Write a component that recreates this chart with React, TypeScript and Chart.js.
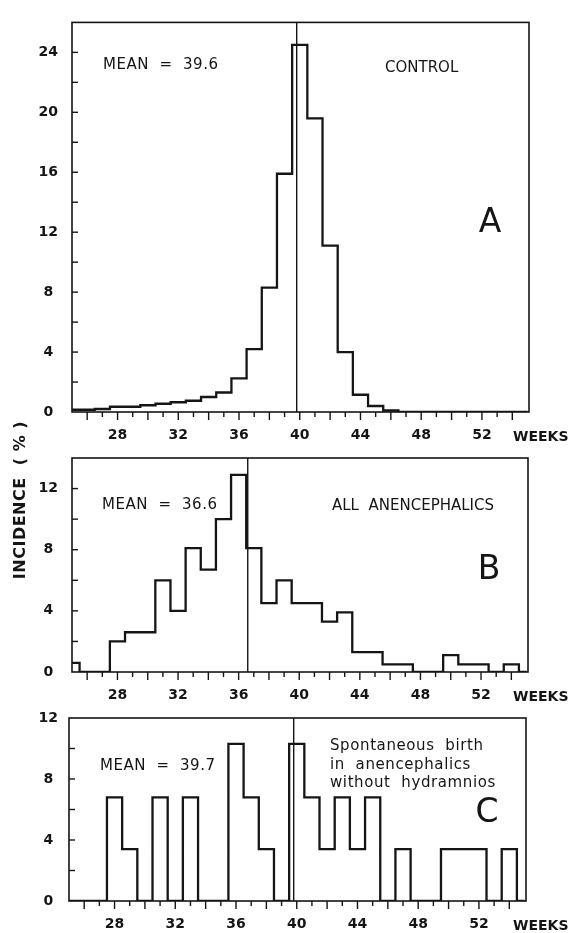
import React, { useEffect, useRef } from "react";
import { Chart, registerables } from "chart.js";

Chart.register(...registerables);

// ---------- DATA ----------
const weeks = [25, 26, 27, 28, 29, 30, 31, 32, 33, 34, 35, 36, 37, 38, 39, 40, 41, 42, 43, 44, 45, 46, 47, 48, 49, 50, 51, 52, 53, 54, 55];

// Panel A: control
const controlPct = [0.15, 0.15, 0.2, 0.35, 0.35, 0.45, 0.55, 0.65, 0.75, 1.0, 1.3, 2.25, 4.2, 8.3, 15.9, 24.5, 19.6, 11.1, 4.0, 1.15, 0.4, 0.1, 0, 0, 0, 0, 0, 0, 0, 0, 0];
// Panel B: all anencephalics
const allAnencephalicsPct = [0.6, 0, 0, 2.0, 2.6, 2.6, 6.0, 4.0, 8.1, 6.7, 10.0, 12.9, 8.1, 4.5, 6.0, 4.5, 4.5, 3.3, 3.9, 1.3, 1.3, 0.5, 0.5, 0, 0, 1.1, 0.5, 0.5, 0, 0.5, 0];
// Panel C: spontaneous birth in anencephalics without hydramnios
const spontaneousPct = [0, 0, 0, 6.8, 3.4, 0, 6.8, 0, 6.8, 0, 0, 10.3, 6.8, 3.4, 0, 10.3, 6.8, 3.4, 6.8, 3.4, 6.8, 0, 3.4, 0, 0, 3.4, 3.4, 3.4, 0, 3.4, 0];

const meanLineA = 39.8;
const meanLineB = 36.6;
const meanLineC = 39.8;

const xTickLabels = [28, 32, 36, 40, 44, 48, 52];
const xTickMarks = [26, 27, 28, 29, 30, 31, 32, 33, 34, 35, 36, 37, 38, 39, 40, 41, 42, 43, 44, 45, 46, 47, 48, 49, 50, 51, 52, 53, 54];
const yTickLabelsA = [0, 4, 8, 12, 16, 20, 24];
const yTickMarksA = [2, 4, 6, 8, 10, 12, 14, 16, 18, 20, 22, 24];
const yTickLabelsBC = [0, 4, 8, 12];
const yTickMarksB = [2, 4, 6, 8, 10, 12];
const yTickMarksC = [2, 4, 6, 8, 10];

const X_MIN = 25;
const X_MAX = 55.1;
const W = 570;
const H = 933;
const INK = "#151515";
const FONT = "'DejaVu Sans', 'Noto Sans', sans-serif";

type TextItem = { text: string; x: number; y: number; size: number; weight?: string; align?: CanvasTextAlign; spacing?: string };

type Panel = {
  values: number[];
  yMax: number;
  yLabels: number[];
  yMarks: number[];
  area: { left: number; top: number; right: number; bottom: number };
  yPad: number;
  mean: number;
  texts: TextItem[];
  vertical?: boolean;
};

const panels: Panel[] = [
  {
    values: controlPct,
    yMax: 26,
    yLabels: yTickLabelsA,
    yMarks: yTickMarksA,
    area: { left: 72, top: 14, right: 529, bottom: 412 },
    yPad: 14,
    mean: meanLineA,
    texts: [
      { text: "MEAN  =  39.6", x: 103, y: 68.5, size: 15, spacing: "0.5px" },
      { text: "CONTROL", x: 385, y: 71.5, size: 15 },
      { text: "A", x: 490, y: 231.5, size: 33, align: "center" },
    ],
  },
  {
    values: allAnencephalicsPct,
    yMax: 14,
    yLabels: yTickLabelsBC,
    yMarks: yTickMarksB,
    area: { left: 72, top: 458, right: 528, bottom: 672 },
    yPad: 14,
    mean: meanLineB,
    texts: [
      { text: "MEAN  =  36.6", x: 102, y: 508.5, size: 15, spacing: "0.5px" },
      { text: "ALL  ANENCEPHALICS", x: 332, y: 510, size: 15 },
      { text: "B", x: 489, y: 578.5, size: 33, align: "center" },
    ],
    vertical: true,
  },
  {
    values: spontaneousPct,
    yMax: 12,
    yLabels: yTickLabelsBC,
    yMarks: yTickMarksC,
    area: { left: 69, top: 718, right: 526, bottom: 901 },
    yPad: 11,
    mean: meanLineC,
    texts: [
      { text: "MEAN  =  39.7", x: 100, y: 770, size: 15, spacing: "0.5px" },
      { text: "Spontaneous  birth", x: 330, y: 750, size: 15, spacing: "0.6px" },
      { text: "in  anencephalics", x: 330, y: 768.5, size: 15, spacing: "0.6px" },
      { text: "without  hydramnios", x: 330, y: 787, size: 15, spacing: "0.6px" },
      { text: "C", x: 487, y: 821.5, size: 33, align: "center" },
    ],
  },
];

function makeDecor(p: Panel) {
  return {
    id: "panelDecor",
    afterDatasetsDraw(chart: any) {
      const { ctx, chartArea: a, scales } = chart;
      const x = scales.x;
      const y = scales.y;
      ctx.save();
      ctx.strokeStyle = INK;
      ctx.fillStyle = INK;
      // frame
      ctx.lineWidth = 1.6;
      ctx.strokeRect(a.left, a.top, a.right - a.left, a.bottom - a.top);
      // y tick marks (inward)
      ctx.lineWidth = 1.4;
      for (const v of p.yMarks) {
        const py = y.getPixelForValue(v);
        ctx.beginPath();
        ctx.moveTo(a.left, py);
        ctx.lineTo(a.left + 6, py);
        ctx.stroke();
      }
      // x tick marks (outward)
      for (const w of xTickMarks) {
        const px = x.getPixelForValue(w);
        const len = w % 2 === 0 ? 8 : 5;
        ctx.beginPath();
        ctx.moveTo(px, a.bottom);
        ctx.lineTo(px, a.bottom + len);
        ctx.stroke();
      }
      // mean line
      ctx.lineWidth = 1.4;
      const mx = x.getPixelForValue(p.mean);
      ctx.beginPath();
      ctx.moveTo(mx, a.top);
      ctx.lineTo(mx, a.bottom);
      ctx.stroke();
      // texts
      ctx.textBaseline = "alphabetic";
      for (const t of p.texts) {
        ctx.font = `${t.weight || "normal"} ${t.size}px ${FONT}`;
        ctx.textAlign = t.align || "left";
        (ctx as any).letterSpacing = t.spacing || "0px";
        ctx.fillText(t.text, t.x, t.y);
      }
      (ctx as any).letterSpacing = "0px";
      // WEEKS
      ctx.font = `bold 14px ${FONT}`;
      ctx.textAlign = "left";
      ctx.fillText("WEEKS", 513, a.bottom + 28.5);
      // vertical axis title
      if (p.vertical) {
        ctx.save();
        ctx.translate(21, 500);
        ctx.rotate(-Math.PI / 2);
        ctx.font = `bold 16px ${FONT}`;
        ctx.textAlign = "center";
        ctx.textBaseline = "middle";
        (ctx as any).letterSpacing = "0.5px";
        ctx.fillText("INCIDENCE  ( % )", 0, 0);
        ctx.restore();
      }
      ctx.restore();
    },
  };
}

function PanelChart({ p }: { p: Panel }) {
  const ref = useRef<HTMLCanvasElement | null>(null);
  useEffect(() => {
    if (!ref.current) return;
    const xAxisH = 40;
    const chart = new Chart(ref.current, {
      type: "line",
      data: {
        datasets: [
          {
            data: weeks.map((w, i) => ({ x: w, y: p.values[i] })),
            borderColor: INK,
            borderWidth: 2.3,
            pointRadius: 0,
            fill: false,
            stepped: "middle",
            tension: 0,
          },
        ],
      },
      options: {
        responsive: false,
        animation: false,
        devicePixelRatio: 1,
        events: [],
        layout: {
          padding: {
            left: 0,
            top: p.area.top,
            right: W - p.area.right,
            bottom: H - p.area.bottom - xAxisH,
          },
        },
        plugins: {
          legend: { display: false },
          tooltip: { enabled: false },
          title: { display: false },
        },
        scales: {
          x: {
            type: "linear",
            min: X_MIN,
            max: X_MAX,
            position: "bottom",
            grid: { display: false, drawTicks: false },
            border: { display: false },
            afterBuildTicks: (s: any) => {
              s.ticks = xTickLabels.map((v) => ({ value: v }));
            },
            afterFit: (s: any) => {
              s.height = xAxisH;
            },
            ticks: {
              padding: 15,
              color: INK,
              maxRotation: 0,
              autoSkip: false,
              font: { family: FONT, size: 14, weight: "bold" },
              callback: (v: any) => String(v),
            },
          },
          y: {
            type: "linear",
            min: 0,
            max: p.yMax,
            grid: { display: false, drawTicks: false },
            border: { display: false },
            afterBuildTicks: (s: any) => {
              s.ticks = p.yLabels.map((v) => ({ value: v }));
            },
            afterFit: (s: any) => {
              s.width = p.area.left;
            },
            ticks: {
              padding: p.yPad,
              crossAlign: "center",
              color: INK,
              font: { family: FONT, size: 14, weight: "bold" },
              callback: (v: any) => String(v),
            },
          },
        },
      } as any,
      plugins: [makeDecor(p)],
    });
    return () => chart.destroy();
  }, [p]);
  return (
    <canvas
      ref={ref}
      width={W}
      height={H}
      style={{ position: "absolute", left: 0, top: 0, width: W, height: H }}
    />
  );
}

export default function App() {
  return (
    <div style={{ position: "absolute", left: 0, top: 0, width: W, height: H, background: "#fff" }}>
      {panels.map((p, i) => (
        <PanelChart key={i} p={p} />
      ))}
    </div>
  );
}
